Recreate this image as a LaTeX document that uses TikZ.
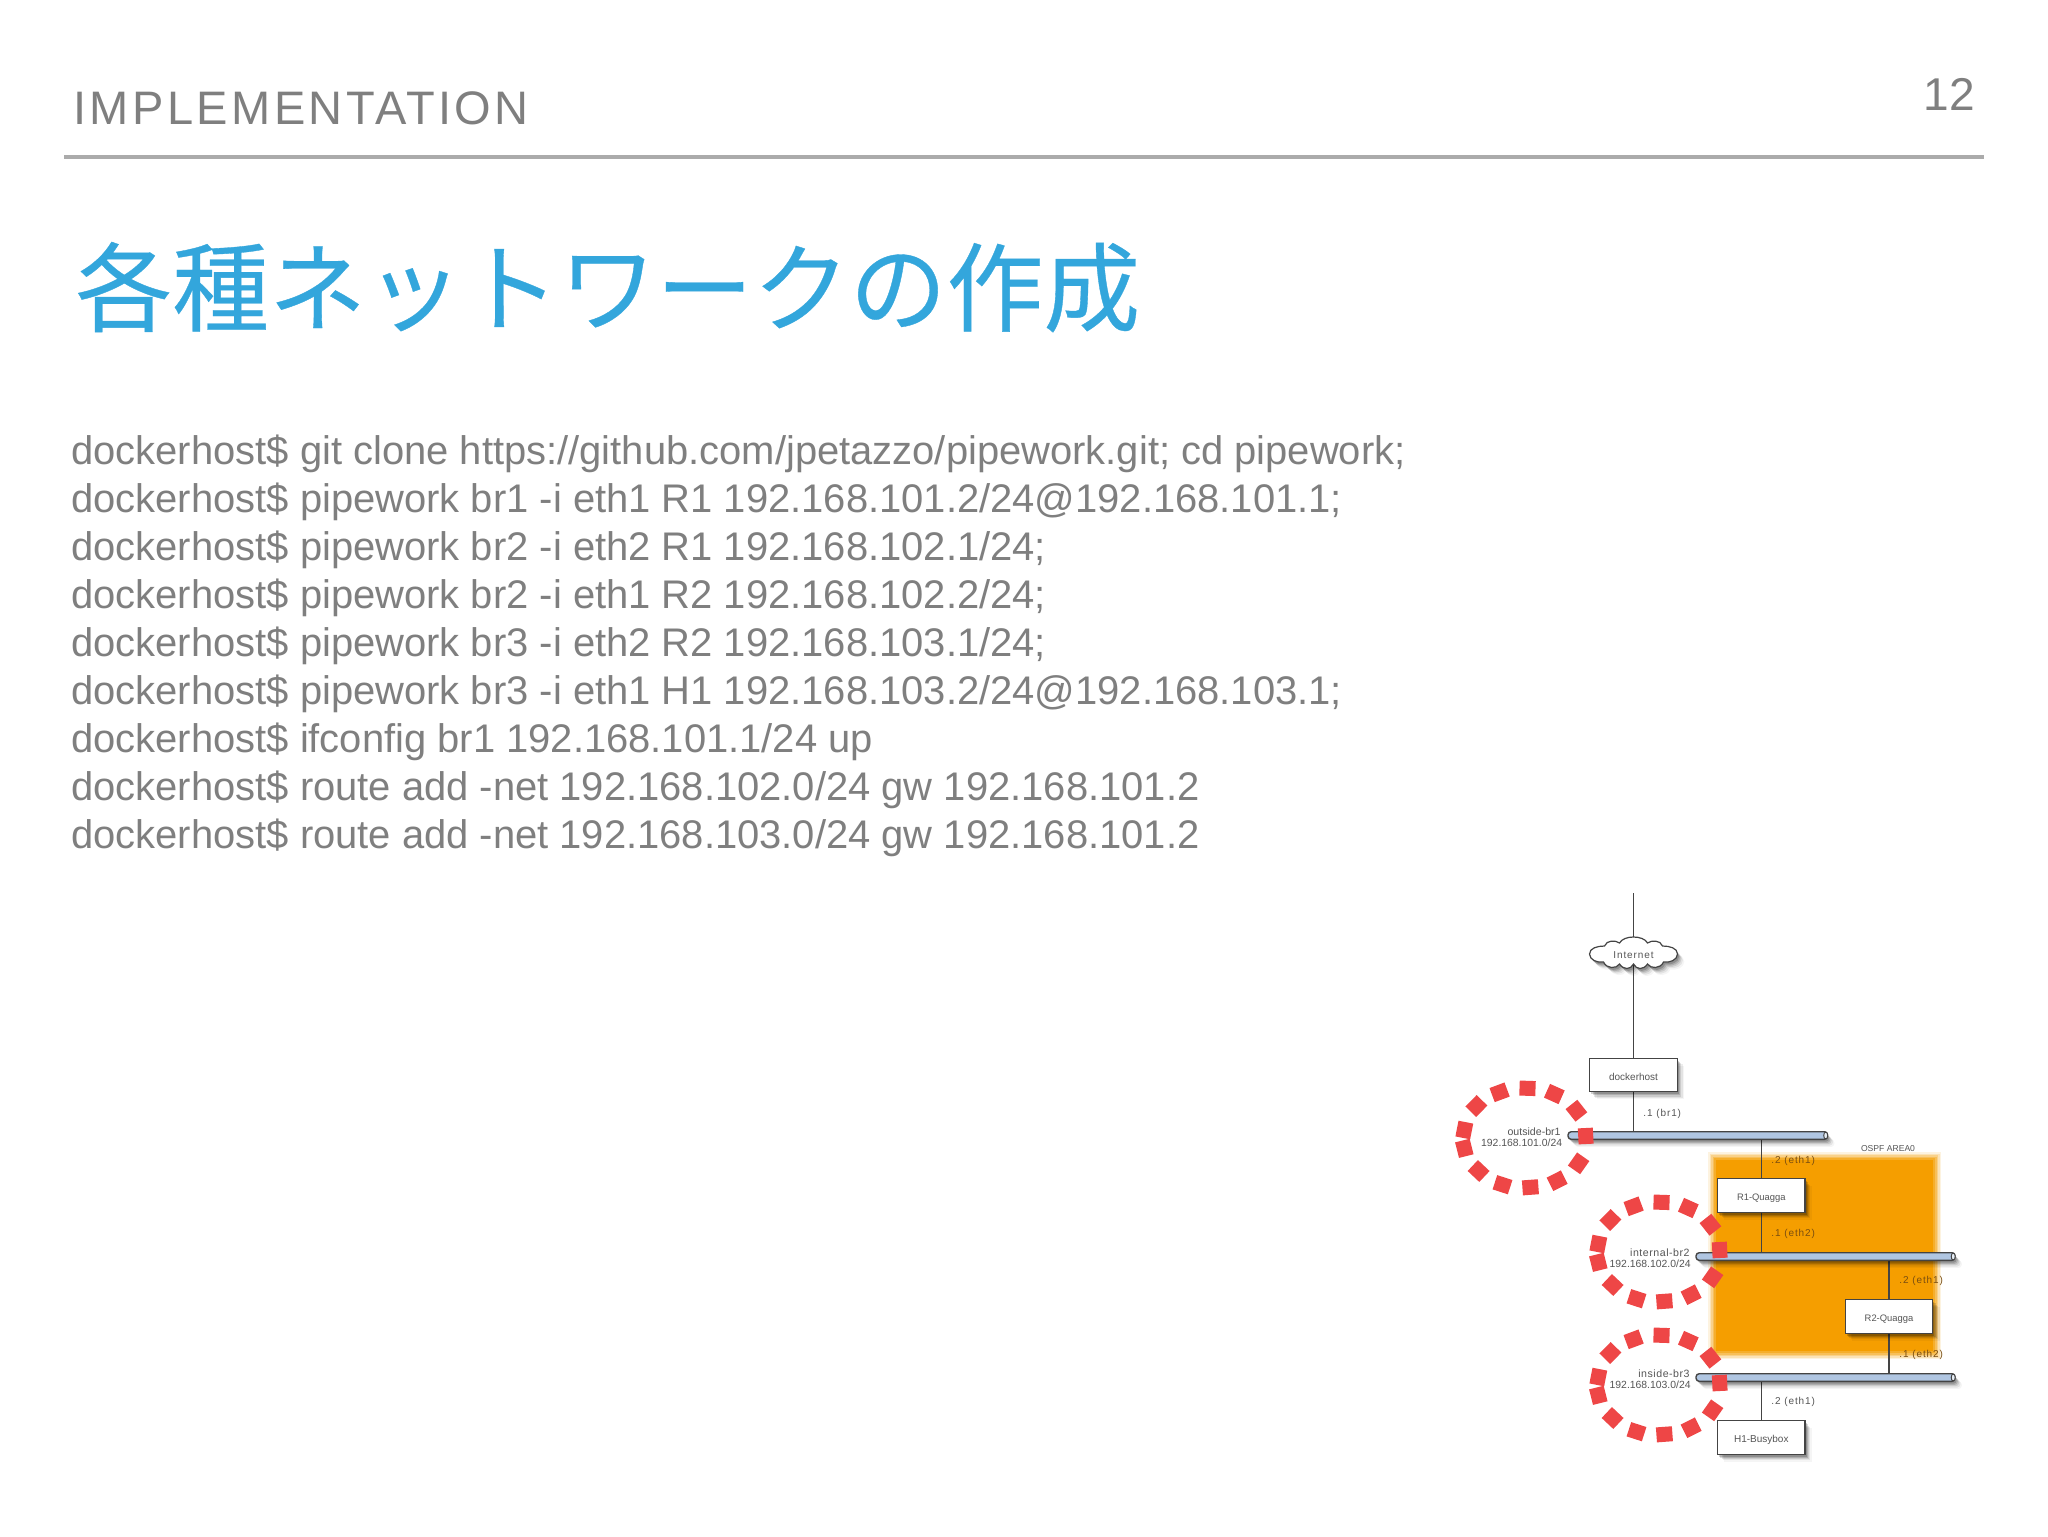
\documentclass[tikz,border=0pt]{standalone}
\usepackage{fontspec}
\usetikzlibrary{calc,shadows,shapes.geometric,shapes.misc}
\setmainfont{Liberation Sans}
\newfontfamily\cjkfont[FakeBold=0.35]{Noto Sans CJK JP}
\newfontfamily\headfont[LetterSpace=7.3]{Liberation Sans}
\newfontfamily\spacedfont[LetterSpace=9]{Liberation Sans}
\newfontfamily\netfont[LetterSpace=5]{Liberation Sans}
\definecolor{textgray}{HTML}{7F7F7F}
\definecolor{rulegray}{HTML}{ABABAB}
\definecolor{titleblue}{HTML}{33A6DC}
\definecolor{ringred}{HTML}{EE4646}
\definecolor{areaorange}{HTML}{F59E00}
\definecolor{barblue}{HTML}{B0C6E2}
\definecolor{wire}{HTML}{444444}
\definecolor{small}{HTML}{555555}
\definecolor{brownish}{HTML}{7A4E10}
\tikzset{
  softshadow/.style={
    general shadow={shadow xshift=.8pt,shadow yshift=-1.2pt,fill=black,opacity=.18},
    general shadow={shadow xshift=1.4pt,shadow yshift=-1.8pt,fill=black,opacity=.14},
    general shadow={shadow xshift=2pt,shadow yshift=-2.4pt,fill=black,opacity=.10},
    general shadow={shadow xshift=2.7pt,shadow yshift=-3.1pt,fill=black,opacity=.07},
    general shadow={shadow xshift=3.4pt,shadow yshift=-3.8pt,fill=black,opacity=.04}},
  hostbox/.style={draw=wire,line width=.7pt,fill=white,minimum width=43.75pt,minimum height=16.75pt,inner sep=0pt,softshadow,
     font=\fontsize{5}{6}\selectfont,text=small,text height=5.5pt,text depth=.5pt},
  quaggabox/.style={hostbox,font=\fontsize{4.7}{6}\selectfont},
  busbar/.style={draw=wire,line width=.7pt,fill=barblue,rounded corners=1.6pt,minimum height=3.8pt,inner sep=0pt,softshadow},
  wireline/.style={draw=wire,line width=.6pt},
  netlabel/.style={font=\fontsize{5.2}{6}\selectfont,text=small,inner sep=0pt},
  netname/.style={font=\netfont\fontsize{5.3}{6}\selectfont,text=small,inner sep=0pt},
  portlabel/.style={font=\spacedfont\fontsize{5}{6}\selectfont,text=small,inner sep=0pt,anchor=base west},
  portorange/.style={portlabel,text=brownish},
}
\newcommand{\redring}[2]{%
  \foreach \dx/\dy in {2.5/-49.7,29.3/-44,51.4/-27.3,60.7/-2,53.6/25.3,32.1/42.7,5.4/49.3,-22.5/46.7,-46.4/33,-60.7/10.3,-60.7/-8,-48.6/-32,-25.4/-45.7}{
    \pgfmathsetmacro\ringa{atan2(-\dy*1.49,\dx)}
    \fill[ringred,shift={(#1+\dx,#2+\dy)},rotate=\ringa] (-7.5,-8) rectangle (7.5,8);
  }}
\begin{document}
\begin{tikzpicture}[x=.5pt,y=-.5pt]
\useasboundingbox (0,0) rectangle (2048,1536);
\fill[white] (0,0) rectangle (2048,1536);
% header
\node[anchor=base west,inner sep=0pt,text=textgray,font=\headfont\fontsize{23.5}{28}\selectfont] (head) at (73,125) {IMPLEMENTATION};
\node[anchor=base east,inner sep=0pt,text=textgray,font=\fontsize{23}{28}\selectfont] (pageno) at (1975,111) {12};
\draw[rulegray,line width=2pt] (64,157) -- (1984,157);
\node[anchor=base west,inner sep=0pt,text=titleblue,font=\cjkfont\fontsize{48.4}{58}\selectfont] (title) at (75,324) {各種ネットワークの作成};
% body
\node[anchor=north west,inner sep=0pt,align=left,text=textgray,font=\fontsize{19.97}{23.95}\selectfont] (body) at (71,435) {%
dockerhost\$ git clone https://github.com/jpetazzo/pipework.git; cd pipework;\\
dockerhost\$ pipework br1 -i eth1 R1 192.168.101.2/24@192.168.101.1;\\
dockerhost\$ pipework br2 -i eth2 R1 192.168.102.1/24;\\
dockerhost\$ pipework br2 -i eth1 R2 192.168.102.2/24;\\
dockerhost\$ pipework br3 -i eth2 R2 192.168.103.1/24;\\
dockerhost\$ pipework br3 -i eth1 H1 192.168.103.2/24@192.168.103.1;\\
dockerhost\$ ifconfig br1 192.168.101.1/24 up\\
dockerhost\$ route add -net 192.168.102.0/24 gw 192.168.101.2\\
dockerhost\$ route add -net 192.168.103.0/24 gw 192.168.101.2};
% OSPF area
\foreach \d/\o in {5/.12,3.5/.18,2/.25,.5/.35,-1/.5,-3/1}{
  \fill[areaorange,opacity=\o] (1713-\d,1157-\d) rectangle (1936+\d,1354+\d);
}
% named nodes
\coordinate (top) at (1633.5,893);
\node[inner sep=0pt,minimum width=44pt,minimum height=16pt] (internet) at (1633.5,954) {};
\coordinate (br1mid) at (1697.75,1135.5);
\coordinate (br2mid) at (1825.5,1256.5);
\coordinate (br3mid) at (1825.5,1377.5);
\coordinate (dockerpos) at (1633.5,1075);
\coordinate (r1pos) at (1761.3,1195.5);
\coordinate (r2pos) at (1889,1316.5);
\coordinate (h1pos) at (1761.3,1437.5);
% connectors (drawn under the boxes)
\draw[wireline] (top) -- (internet.center);
\draw[wireline] (internet.center) -- (dockerpos);
\draw[wireline] (dockerpos) -- (dockerpos |- br1mid);
\draw[wireline] (br1mid -| r1pos) -- (r1pos);
\draw[wireline] (r1pos) -- (r1pos |- br2mid);
\draw[wireline] (br2mid -| r2pos) -- (r2pos);
\draw[wireline] (r2pos) -- (r2pos |- br3mid);
\draw[wireline] (br3mid -| h1pos) -- (h1pos);
% hosts
\node[hostbox] (docker) at (dockerpos) {dockerhost};
\node[quaggabox] (r1) at (r1pos) {R1-Quagga};
\node[quaggabox] (r2) at (r2pos) {R2-Quagga};
\node[hostbox] (h1) at (h1pos) {H1-Busybox};
% cloud
\draw[draw=wire,line width=.6pt,fill=white,softshadow,shift={(1633.5,954)}]
 (-44,0) .. controls (-44,-6) and (-36,-8) .. (-29,-8)
 .. controls (-27,-14) and (-18,-14) .. (-14,-11)
 .. controls (-10,-19) and (10,-19) .. (14,-11)
 .. controls (18,-14) and (27,-14) .. (29,-8)
 .. controls (36,-8) and (44,-6) .. (44,0)
 .. controls (44,6) and (36,9) .. (30,8)
 .. controls (27,15) and (17,15) .. (14,10)
 .. controls (10,16) and (3,16) .. (0,10)
 .. controls (-3,16) and (-10,16) .. (-14,10)
 .. controls (-17,15) and (-27,15) .. (-30,8)
 .. controls (-36,9) and (-44,6) .. (-44,0) -- cycle;
\node[font=\spacedfont\fontsize{5}{6}\selectfont,text=small,inner sep=0pt] (inettext) at (1633.5,955) {Internet};
% bars
\node[busbar,minimum width=129.75pt] (br1) at (br1mid) {};
\node[busbar,minimum width=129.5pt] (br2) at (br2mid) {};
\node[busbar,minimum width=129.5pt] (br3) at (br3mid) {};
\foreach \b in {br1,br2,br3}{
  \draw[wire,line width=.5pt,fill=white!70!barblue] ($(\b.east)+(-2.5,0)$) ellipse[x radius=2,y radius=3.5];
}
% labels
\node[netlabel,font=\fontsize{5.3}{6}\selectfont,anchor=base east] (l1a) at (1561,1135) {outside-br1};
\node[netlabel,anchor=base east] (l1b) at (1562.5,1146) {192.168.101.0/24};
\node[netname,anchor=base east] (l2a) at (1690,1256) {internal-br2};
\node[netlabel,anchor=base east] (l2b) at (1691,1267) {192.168.102.0/24};
\node[netname,anchor=base east] (l3a) at (1690,1377) {inside-br3};
\node[netlabel,anchor=base east] (l3b) at (1691,1388) {192.168.103.0/24};
\node[portlabel] (p1) at (1643,1116) {.1 (br1)};
\node[portorange] (p2) at (1771,1163) {.2 (eth1)};
\node[portorange] (p3) at (1771,1236) {.1 (eth2)};
\node[portorange] (p4) at (1899,1283) {.2 (eth1)};
\node[portorange] (p5) at (1899,1357) {.1 (eth2)};
\node[portlabel] (p6) at (1771,1404) {.2 (eth1)};
\node[inner sep=0pt,font=\fontsize{4.3}{6}\selectfont,text=small] (ospf) at (1888,1149) {OSPF AREA0};
% dashed rings
\redring{1525}{1138}
\redring{1659}{1252}
\redring{1659}{1385}
\end{tikzpicture}
\end{document}
